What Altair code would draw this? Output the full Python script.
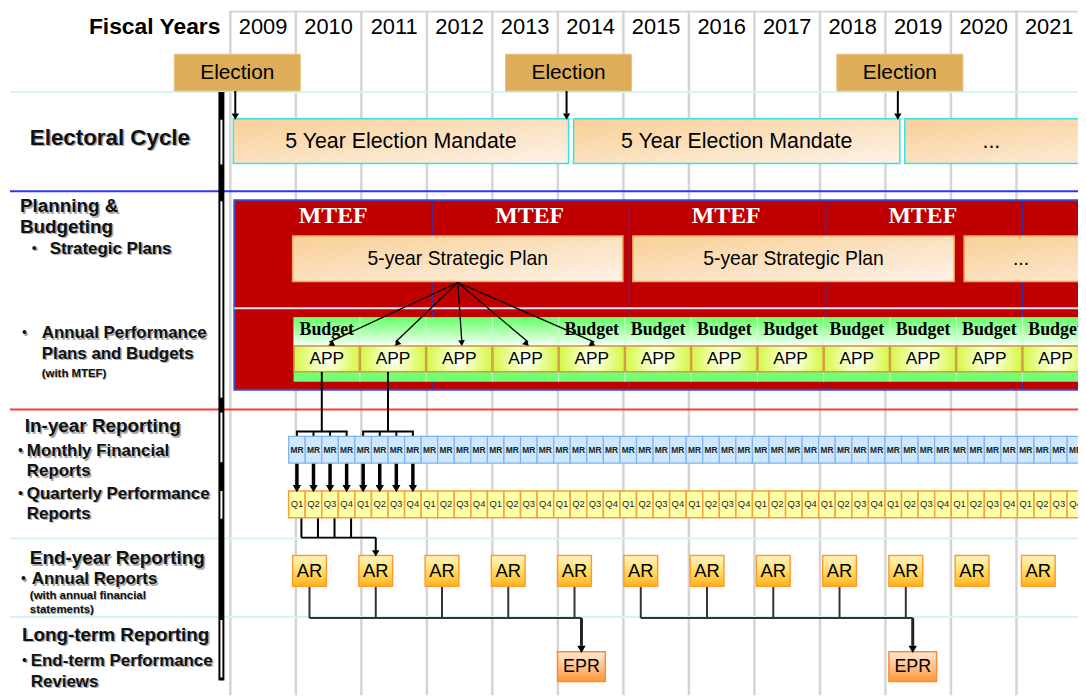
import math
import altair as alt
import pandas as pd

# ---------------- data ----------------
years = list(range(2009, 2022))
fiscal_title = "Fiscal Years"
election_years = [2009, 2014, 2019]
election_label = "Election"
mandate_labels = ["5 Year Election Mandate", "5 Year Election Mandate", "..."]
mtef_starts = [2009, 2012, 2015, 2018, 2021]
mtef_label = "MTEF"
plan_starts = [2010, 2015, 2020]
plan_labels = ["5-year Strategic Plan", "5-year Strategic Plan", "..."]
app_years = list(range(2010, 2022))
app_label = "APP"
budget_years = [2010, 2014, 2015, 2016, 2017, 2018, 2019, 2020, 2021]
budget_label = "Budget"
plan_fan_years = [2010, 2011, 2012, 2013, 2014]
quarters = ["Q1", "Q2", "Q3", "Q4"]
mr_label = "MR"
app_to_mr_years = [2010, 2011]
q_source_year = 2010
q_target_ar_year = 2011
ar_years = list(range(2010, 2022))
ar_label = "AR"
epr_years = [2014, 2019]
epr_sources = [[2010, 2011, 2012, 2013, 2014], [2015, 2016, 2017, 2018, 2019]]
epr_label = "EPR"
row_headers = ["Electoral Cycle", "Planning &", "Budgeting", "In-year Reporting",
               "End-year Reporting", "Long-term Reporting"]
row_items = ["Strategic Plans", "Annual Performance", "Plans and Budgets", "Monthly Financial",
             "Reports", "Quarterly Performance", "Reports", "Annual Reports",
             "End-term Performance", "Reviews"]
row_notes = ["(with MTEF)", "(with annual financial", "statements)"]

# ---------------- layout (pixels of the page) ----------------
W, H = 1078, 690
M = 8
X2009 = 232.0
GRID = 66.0
STEP = 66.75
QW = STEP / 4
SANS = "Liberation Sans, Arial, sans-serif"
SERIF = "Liberation Serif, Times New Roman, serif"


def gx(px):
    return 2009 + (px - X2009) / GRID


def epx(year, off=0.0):
    return X2009 + (year - 2009) * STEP + off


def ex(year, off=0.0):
    return gx(epx(year, off))


XMIN, XMAX = gx(M), gx(M + W)
YMIN, YMAX = M, M + H
RIGHT_PX = M + W + 150
FAR = gx(RIGHT_PX)

header_pos = [(30, 136, 22.5), (20, 205, 19), (20, 226, 19), (25, 427, 19), (30, 560, 19), (22, 637, 19)]
item_pos = [(50, 248), (42, 333), (42, 354), (27, 452), (27, 472), (27, 495), (27, 515),
            (32, 581), (31, 663), (31, 684)]
bullet_pos = [(32, 248), (22, 333), (18, 452), (18, 495), (21, 581), (22, 663)]
note_pos = [(42, 374), (30, 598), (30, 612)]
separators = [(90, "#D2F6F8"), (190, "#3434F4"), (410, "#FF3838"), (540, "#D2F6F8"), (619, "#D2F6F8")]
hollow = [(118, 163), (200, 398), (413, 463), (492, 520), (622, 680)]

xs = alt.Scale(domain=[XMIN, XMAX], nice=False, zero=False)
ys = alt.Scale(domain=[YMIN, YMAX], nice=False, zero=False, reverse=True)
XE = alt.X("x:Q", scale=xs, axis=None)
YE = alt.Y("y:Q", scale=ys, axis=None)


def rect_layer(rows, **mark):
    return alt.Chart(pd.DataFrame(rows)).mark_rect(clip=True, **mark).encode(
        x=XE, x2="x2:Q", y=YE, y2="y2:Q")


def seg_layer(rows):
    return alt.Chart(pd.DataFrame(rows)).mark_rule(clip=True, strokeCap="butt").encode(
        x=XE, x2="x2:Q", y=YE, y2="y2:Q",
        color=alt.Color("c:N", scale=None),
        strokeWidth=alt.StrokeWidth("w:Q", scale=None))


def text_layer(rows, **mark):
    mark.setdefault("font", SANS)
    mark.setdefault("baseline", "middle")
    mark.setdefault("align", "center")
    mark.setdefault("color", "black")
    return alt.Chart(pd.DataFrame(rows)).mark_text(clip=True, **mark).encode(
        x=XE, y=YE, text="t:N")


def head_layer(rows):
    return alt.Chart(pd.DataFrame(rows)).mark_point(
        shape="triangle", filled=True, color="black", opacity=1, clip=True).encode(
        x=XE, y=YE, angle=alt.Angle("a:Q", scale=None), size=alt.Size("s:Q", scale=None))


def arrowhead(tx, ty, ox, oy, size):
    dx, dy = tx - ox, ty - oy
    n = math.hypot(dx, dy)
    h = math.sqrt(size) / 2 * math.sqrt(3) / 2
    cx, cy = tx - dx / n * h, ty - dy / n * h
    return dict(x=gx(cx), y=cy, a=math.degrees(math.atan2(dx, -dy)) % 360, s=size)


def seg(x1, y1, x2, y2, w=2, c="black"):
    return dict(x=gx(x1), y=y1, x2=gx(x2), y2=y2, w=w, c=c)


def grad(stops, x2=0, y2=1):
    return {"gradient": "linear", "x1": 0, "y1": 0, "x2": x2, "y2": y2,
            "stops": [{"offset": o, "color": c} for o, c in stops]}


peach = grad([(0, "#F9CF96"), (1, "#FDF2E8")], x2=1, y2=1)

layers = []

# grid and separators
rows = [dict(x=y, x2=y, y=YMIN, y2=YMAX, c="#D4D4D4", w=2.5) for y in years + [years[-1] + 1]]
rows.append(dict(x=years[0], x2=FAR, y=YMIN + 1, y2=YMIN + 1, c="#D4D4D4", w=2))
for yy, col in separators:
    rows.append(seg(10, yy, RIGHT_PX, yy, 2, col))
layers.append(seg_layer(rows))

# left double bar
rows = [seg(223, 90, 223, 683, 6)] + [seg(223, a, 223, b, 2, "white") for a, b in hollow]
layers.append(seg_layer(rows))

# header
layers.append(text_layer([dict(x=y + 0.5, y=25, t=str(y)) for y in years], fontSize=22))
layers.append(text_layer([dict(x=gx(222), y=25, t=fiscal_title)], fontSize=23,
                         fontWeight="bold", align="right"))

# elections
ec = [epx(E, 7) for E in election_years]
layers.append(rect_layer([dict(x=gx(c - 63.5), x2=gx(c + 63.5), y=52, y2=89) for c in ec],
                         fill="#DEAD5A", stroke="#E9C27E", strokeWidth=1))
layers.append(text_layer([dict(x=gx(c), y=71, t=election_label) for c in ec], fontSize=21))

# mandates
mrows, mtext = [], []
for i, E in enumerate(election_years):
    s = epx(E, 3 if i == 0 else 12)
    e = epx(E + 5, 7)
    mrows.append(dict(x=gx(s), x2=gx(e), y=117, y2=162))
    mtext.append(dict(x=gx((s + min(e, M + W)) / 2), y=140, t=mandate_labels[i]))
layers.append(rect_layer(mrows, fill=peach, stroke="#38E2E2", strokeWidth=1.5))
layers.append(text_layer(mtext, fontSize=21.5))
arows = [seg(epx(E, 5), 89, epx(E, 5), 112) for E in election_years]
layers.append(seg_layer(arows))
layers.append(head_layer([arrowhead(epx(E, 5), 117, epx(E, 5), 89, 55) for E in election_years]))

# red MTEF block
layers.append(rect_layer([dict(x=gx(236), x2=FAR, y=199, y2=390)],
                         fill="#C00000", stroke="#3F48CC", strokeWidth=2))
rows = [seg(232 + (s + 0.09 - 2009) * GRID, 199, 232 + (s + 0.09 - 2009) * GRID, 390, 1.2, "#3A2FA8")
        for s in mtef_starts[1:]]
rows.append(seg(236, 308, RIGHT_PX, 308, 2, "#D6E4EE"))
layers.append(seg_layer(rows))
mtef_txt = [dict(x=s + 1.57, y=215, t=mtef_label) for s in mtef_starts if s + 1.57 + 0.55 < XMAX]
layers.append(text_layer(mtef_txt, fontSize=24, fontWeight="bold", font=SERIF, color="white"))

# strategic plans
prows, ptext = [], []
for i, S in enumerate(plan_starts):
    s = epx(S, -4 if i == 0 else 5)
    e = epx(S + 5, -5)
    prows.append(dict(x=gx(s), x2=gx(e), y=235, y2=281))
    ptext.append(dict(x=gx((s + min(e, M + W)) / 2), y=258, t=plan_labels[i]))
layers.append(rect_layer(prows, fill=peach, stroke="#F2A55E", strokeWidth=1.5))
layers.append(text_layer(ptext, fontSize=19.5))

# budget / APP band
band_l = epx(app_years[0], -3)
layers.append(rect_layer([dict(x=gx(band_l), x2=FAR, y=317, y2=382)], fill="#72FF72"))
layers.append(rect_layer([dict(x=gx(band_l), x2=FAR, y=317, y2=345)],
                         fill=grad([(0, "#66FF66"), (1, "#F4FFF4")])))
rows = [seg(epx(y, -3), 317, epx(y, -3), 382, 1, "#C8FFC8") for y in app_years[1:]]
layers.append(seg_layer(rows))
layers.append(rect_layer(
    [dict(x=ex(y, -2.5), x2=ex(y + 1, -3.5), y=346, y2=372) for y in app_years],
    fill={"gradient": "radial", "x1": 0.5, "y1": 0.5, "r1": 0, "x2": 0.5, "y2": 0.5, "r2": 0.62,
          "stops": [{"offset": 0, "color": "#FFFFFF"}, {"offset": 0.3, "color": "#F2FFB8"},
                    {"offset": 1, "color": "#CCF41E"}]},
    stroke="#D49A4E", strokeWidth=1.5))
layers.append(text_layer([dict(x=ex(y, 30.4), y=359.5, t=app_label) for y in app_years], fontSize=17.5))
layers.append(text_layer([dict(x=ex(y, 30.4), y=330, t=budget_label) for y in budget_years],
                         fontSize=18, fontWeight="bold", font=SERIF))

# fan from strategic plan to APPs
ox, oy = (epx(plan_starts[0], -4) + epx(plan_starts[0] + 5, -5)) / 2, 282
rows, heads = [], []
for y in plan_fan_years:
    tx, ty = epx(y, 33), 345
    rows.append(seg(ox, oy, tx, ty - 3, 1.3))
    heads.append(arrowhead(tx, ty, ox, oy, 45))
layers.append(seg_layer(rows))
layers.append(head_layer(heads))

# APP -> MR brackets, MR -> Q arrows
rows, heads = [], []
for y in app_to_mr_years:
    qc = [epx(y, -8) + (k + 0.5) * QW for k in range(4)]
    mid = (qc[0] + qc[3]) / 2
    rows.append(seg(mid, 372, mid, 432))
    rows.append(seg(qc[0] - 1, 432, qc[3] + 1, 432))
    for c in qc:
        rows.append(seg(c, 432, c, 437))
        rows.append(seg(c, 464, c, 486, 3.5))
        heads.append(arrowhead(c, 492, c, 464, 70))

# Q -> AR
qc = [epx(q_source_year, -8) + (k + 0.5) * QW + 4.5 for k in range(4)]
arc = epx(q_target_ar_year, 13)
for c in qc:
    rows.append(seg(c, 519, c, 539))
rows.append(seg(qc[0], 539, arc, 539))
rows.append(seg(arc, 539, arc, 552))
heads.append(arrowhead(arc, 557, arc, 539, 55))

# AR -> EPR
for E, src in zip(epr_years, epr_sources):
    ec_ = epx(E, 20)
    for y in src:
        c = epx(y, 13)
        rows.append(seg(c, 588, c, 620, 2, "#333333"))
    rows.append(seg(epx(src[0], 13), 620, ec_, 620, 2, "#333333"))
    rows.append(seg(ec_, 620, ec_, 648, 3, "#222222"))
    heads.append(arrowhead(ec_, 654, ec_, 620, 70))
layers.append(seg_layer(rows))

# MR and Q boxes
mr_rows, mr_txt, q_rows, q_txt = [], [], [], []
for y in app_years:
    for k, qn in enumerate(quarters):
        l = epx(y, -8) + k * QW
        mr_rows.append(dict(x=gx(l), x2=gx(l + QW), y=437, y2=464))
        mr_txt.append(dict(x=gx(l + QW / 2), y=450.5, t=mr_label))
        q_rows.append(dict(x=gx(l), x2=gx(l + QW), y=492, y2=519))
        q_txt.append(dict(x=gx(l + QW / 2), y=505.5, t=qn))
layers.append(rect_layer(mr_rows, fill="#CDE8FF", stroke="#7FB2F0", strokeWidth=1.2))
layers.append(text_layer(mr_txt, fontSize=8.5, fontWeight="bold", color="#222222"))
layers.append(rect_layer(q_rows, fill="#FFFFA8", stroke="#F5A03A", strokeWidth=1.5))
layers.append(text_layer(q_txt, fontSize=9.5, color="#222222"))

# AR and EPR boxes
ar_rows = [dict(x=ex(y, -4), x2=ex(y, 30), y=557, y2=588) for y in ar_years]
layers.append(rect_layer(ar_rows, fill=grad([(0, "#FFF6C8"), (0.5, "#FFDD66"), (1, "#FFB21E")]),
                         stroke="#FF9B33", strokeWidth=1.5))
layers.append(text_layer([dict(x=ex(y, 13), y=573, t=ar_label) for y in ar_years], fontSize=18.5))
layers.append(rect_layer([dict(x=ex(E, -4), x2=ex(E, 44), y=654, y2=684) for E in epr_years],
                         fill=grad([(0, "#FFEAD6"), (1, "#FF9838")]),
                         stroke="#FF8A2E", strokeWidth=1.5))
layers.append(text_layer([dict(x=ex(E, 20), y=669, t=epr_label) for E in epr_years], fontSize=18))

layers.append(head_layer(heads))

# left row labels (with soft shadow)
hrows = [dict(x=gx(px), y=py, t=t) for (px, py, _), t in zip(header_pos, row_headers)]
irows = [dict(x=gx(px), y=py, t=t) for (px, py), t in zip(item_pos, row_items)]
nrows = [dict(x=gx(px), y=py, t=t) for (px, py), t in zip(note_pos, row_notes)]
brows = [dict(x=gx(px), y=py, t="•") for (px, py) in bullet_pos]
for dx, col in [(1.5, "#A8A8A8"), (0, "#111111")]:
    layers.append(text_layer(hrows[:1], fontSize=header_pos[0][2], fontWeight="bold", align="left",
                             color=col, dx=dx, dy=dx))
    layers.append(text_layer(hrows[1:], fontSize=19, fontWeight="bold", align="left",
                             color=col, dx=dx, dy=dx))
    layers.append(text_layer(irows, fontSize=17, fontWeight="bold", align="left",
                             color=col, dx=dx, dy=dx))
    layers.append(text_layer(nrows, fontSize=11.5, fontWeight="bold", align="left",
                             color=col, dx=dx * 0.5, dy=dx * 0.5))
    layers.append(text_layer(brows, fontSize=14, align="left", color=col, dx=dx, dy=dx))

chart = alt.layer(*layers).properties(
    width=W, height=H, autosize=alt.AutoSizeParams(type="none"), padding=0,
    background="white",
).configure_view(stroke=None)

chart.save("out.html", embed_options={"renderer": "svg", "actions": False})
